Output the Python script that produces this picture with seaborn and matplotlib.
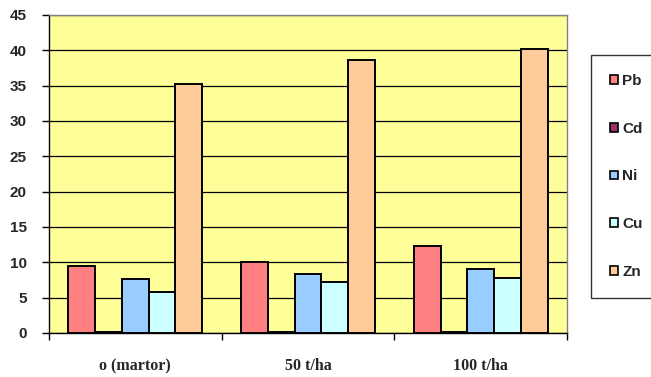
import matplotlib
matplotlib.use("Agg")
import matplotlib.pyplot as plt
from matplotlib.ticker import FixedLocator, NullFormatter
import seaborn as sns
import pandas as pd

# Heavy-metal content per treatment
categories = ["o (martor)", "50 t/ha", "100 t/ha"]
metals = ["Pb", "Cd", "Ni", "Cu", "Zn"]
pb = [9.5, 10.1, 12.35]
cd = [0.1, 0.1, 0.1]
ni = [7.6, 8.3, 9.1]
cu = [5.85, 7.2, 7.8]
zn = [35.2, 38.7, 40.2]
y_ticks = [0, 5, 10, 15, 20, 25, 30, 35, 40, 45]

colors = ["#FF8080", "#993366", "#99CCFF", "#CCFFFF", "#FFCC99"]

rows = []
for metal, vals in zip(metals, [pb, cd, ni, cu, zn]):
    for cat, v in zip(categories, vals):
        rows.append({"treatment": cat, "metal": metal, "value": v})
df = pd.DataFrame(rows)

sns.set_theme(style="white")
plt.rcParams["font.family"] = ["Liberation Sans", "DejaVu Sans"]

fig = plt.figure(figsize=(6.51, 3.77), dpi=100)
ax = fig.add_axes([49 / 651, 44 / 377, 518 / 651, 318 / 377])
ax.set_facecolor("#FFFF99")

sns.barplot(data=df, x="treatment", y="value", hue="metal",
            order=categories, hue_order=metals, palette=colors,
            width=0.775, gap=0, edgecolor="black", linewidth=1.4,
            saturation=1, errorbar=None, ax=ax)

ax.set_xlim(-0.5, 2.5)
ax.set_ylim(0, 45)
ax.set_yticks(y_ticks)
ax.set_xlabel("")
ax.set_ylabel("")

ax.set_axisbelow(True)
ax.yaxis.grid(True, color="black", linewidth=0.9)
ax.xaxis.grid(False)

for side in ["left", "bottom"]:
    ax.spines[side].set_color("black")
    ax.spines[side].set_linewidth(1.0)
for side in ["top", "right"]:
    ax.spines[side].set_color("#808080")
    ax.spines[side].set_linewidth(1.0)

ax.tick_params(axis="y", which="major", direction="out", length=5, width=1,
               color="black", pad=11, left=True)
for lab in ax.get_yticklabels():
    lab.set_fontweight("bold")
    lab.set_fontsize(11)
    lab.set_fontfamily("Liberation Sans")

# category labels centred, tick marks on the category boundaries
ax.xaxis.set_minor_locator(FixedLocator([-0.5, 0.5, 1.5, 2.5]))
ax.xaxis.set_minor_formatter(NullFormatter())
ax.tick_params(axis="x", which="minor", direction="out", length=5, width=1,
               color="black", bottom=True)
ax.tick_params(axis="x", which="major", length=0, pad=18)
for lab in ax.get_xticklabels():
    lab.set_fontweight("bold")
    lab.set_fontsize(11.5)
    lab.set_fontfamily("Liberation Serif")

handles, labels = ax.get_legend_handles_labels()
for h in handles:
    h.set_edgecolor("black")
    h.set_linewidth(1.2)
leg = ax.legend(handles, labels, loc="upper left",
                bbox_to_anchor=(591 / 651, 1 - 55 / 377, 0.2, 0.0),
                bbox_transform=fig.transFigure, mode="expand",
                prop={"family": "Liberation Sans", "weight": "bold", "size": 11},
                handlelength=0.5, handleheight=0.5, handletextpad=0.3,
                labelspacing=2.2, borderpad=1.26, borderaxespad=0,
                frameon=True, fancybox=False, shadow=False)
leg.get_frame().set_edgecolor("black")
leg.get_frame().set_linewidth(1.0)
leg.get_frame().set_facecolor("white")

fig.savefig("out.png", dpi=100, facecolor="white")
